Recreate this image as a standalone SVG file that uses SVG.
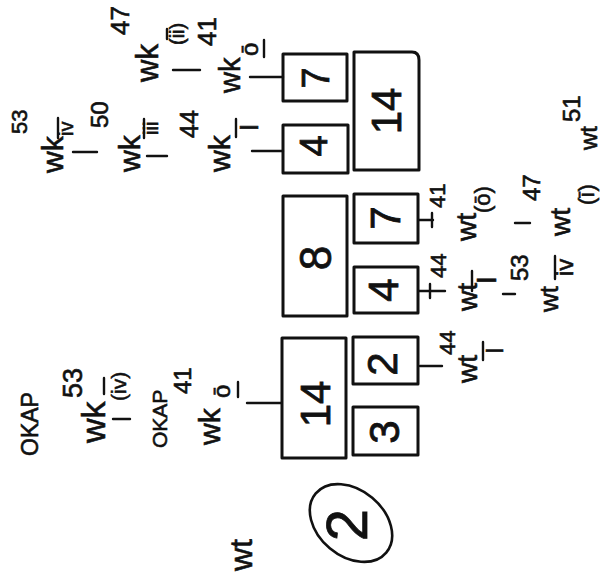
<svg xmlns="http://www.w3.org/2000/svg" width="605" height="574" viewBox="0 0 605 574">
<style>
.box{fill:none;stroke:#111;stroke-width:3;stroke-linejoin:round}
.ln{fill:none;stroke:#111;stroke-width:2.4;stroke-linecap:round}
.num{font-family:"Liberation Sans",Arial,sans-serif;fill:#111;stroke:#111;stroke-width:0.8;text-anchor:middle;dominant-baseline:central}
.t{font-family:"Liberation Sans",Arial,sans-serif;fill:#111;stroke:#111;stroke-width:0.6}
</style>
<rect width="605" height="574" fill="#fff"/>

<g id="connectors">
  <line class="ln" x1="247" y1="403" x2="281" y2="403"/>
  <line class="ln" x1="113" y1="419" x2="130" y2="419"/>
  <line class="ln" x1="252" y1="151" x2="283" y2="151"/>
  <line class="ln" x1="73" y1="152" x2="97" y2="152"/>
  <line class="ln" x1="147" y1="156" x2="167" y2="156"/>
  <line class="ln" x1="250" y1="77" x2="283" y2="77"/>
  <line class="ln" x1="173" y1="70" x2="200" y2="70"/>
  <line class="ln" x1="419" y1="220" x2="433" y2="220"/>
  <line class="ln" x1="432" y1="213" x2="432" y2="227"/>
  <line class="ln" x1="515" y1="223" x2="530" y2="223"/>
  <line class="ln" x1="419" y1="291" x2="445" y2="291"/>
  <line class="ln" x1="430" y1="284" x2="430" y2="298"/>
  <line class="ln" x1="503" y1="294" x2="515" y2="294"/>
  <line class="ln" x1="420" y1="366" x2="442" y2="366"/>
</g>

<g id="node-7a"><rect class="box" x="283" y="54" width="64" height="47"/><text class="num" font-size="38" x="316" y="78" transform="rotate(-90 316 78)">7</text></g>
<g id="node-4a"><rect class="box" x="283" y="125" width="65" height="48"/><text class="num" font-size="38" x="314" y="146" transform="rotate(-90 314 146)">4</text></g>
<g id="node-14a"><path class="box" d="M354,52 H412 Q419,52 419,60 V170 H354 Z"/><text class="num" font-size="42" x="386" y="111" transform="rotate(-90 386 111)">14</text></g>
<g id="node-8"><rect class="box" x="283" y="196" width="64" height="120"/><text class="num" font-size="44" x="315" y="258" transform="rotate(-90 315 258)">8</text></g>
<g id="node-7b"><rect class="box" x="354" y="194" width="64" height="49"/><text class="num" font-size="42" x="385" y="218" transform="rotate(-90 385 218)">7</text></g>
<g id="node-4b"><rect class="box" x="354" y="267" width="64" height="46"/><text class="num" font-size="42" x="383" y="290" transform="rotate(-90 383 290)">4</text></g>
<g id="node-14b"><rect class="box" x="282" y="338" width="64" height="120"/><text class="num" font-size="42" x="315" y="404" transform="rotate(-90 315 404)">14</text></g>
<g id="node-2"><rect class="box" x="353" y="337" width="65" height="47"/><text class="num" font-size="42" x="382" y="364" transform="rotate(-90 382 364)">2</text></g>
<g id="node-3"><rect class="box" x="353" y="407" width="65" height="48"/><text class="num" font-size="42" x="384" y="432" transform="rotate(-90 384 432)">3</text></g>

<g id="circle-2">
  <ellipse cx="351" cy="523" rx="46" ry="33" transform="rotate(40 351 523)" fill="none" stroke="#111" stroke-width="2.6"/>
  <text class="num" font-size="58" x="346" y="525" transform="rotate(-90 346 525)">2</text>
</g>

<g id="labels" transform="translate(0,574) rotate(-90)">
  <text class="t" font-size="23" x="118" y="38">OKAP</text>
  <text class="t" font-size="34" x="131" y="105">wk</text>
  <text class="t" font-size="27" x="176" y="82">53</text>
  <text class="t" font-size="21" x="173" y="126">(iv)</text>
  <line class="ln" x1="180" y1="104" x2="196" y2="104"/>
  <text class="t" font-size="21" x="126" y="167">OKAP</text>
  <text class="t" font-size="24" x="180" y="191">41</text>
  <text class="t" font-size="30" x="129" y="220">wk</text>
  <text class="t" font-size="24" x="176" y="230">ō</text>
  <line class="ln" x1="177" y1="238" x2="192" y2="238"/>
  <text class="t" font-size="22" x="440" y="27">53</text>
  <text class="t" font-size="30" x="401" y="63">wk</text>
  <text class="t" font-size="20" x="438" y="73">iv</text>
  <line class="ln" x1="436" y1="58" x2="456" y2="58"/>
  <text class="t" font-size="24" x="446" y="108">50</text>
  <text class="t" font-size="30" x="402" y="140">wk</text>
  <text class="t" font-size="20" x="439" y="158">iii</text>
  <line class="ln" x1="436" y1="144" x2="455" y2="144"/>
  <text class="t" font-size="25" x="436" y="198">44</text>
  <text class="t" font-size="30" x="402" y="230">wk</text>
  <text class="t" font-size="26" x="443" y="258">I</text>
  <line class="ln" x1="437" y1="236" x2="455" y2="236"/>
  <text class="t" font-size="26" x="539" y="129">47</text>
  <text class="t" font-size="31" x="492" y="158">wk</text>
  <text class="t" font-size="20" x="529" y="184">(ii)</text>
  <line class="ln" x1="535" y1="167" x2="545" y2="167"/>
  <text class="t" font-size="26" x="528" y="216">41</text>
  <text class="t" font-size="29" x="481" y="240">wk</text>
  <text class="t" font-size="24" x="518" y="258">ō</text>
  <line class="ln" x1="517" y1="264" x2="534" y2="264"/>
  <text class="t" font-size="22" x="366" y="445">41</text>
  <text class="t" font-size="28" x="333" y="476">wt</text>
  <text class="t" font-size="22" x="361" y="490">(ō)</text>
  <text class="t" font-size="24" x="373" y="540">47</text>
  <text class="t" font-size="28" x="338" y="570">wt</text>
  <text class="t" font-size="22" x="369" y="594">(ī)</text>
  <text class="t" font-size="22" x="296" y="446">44</text>
  <text class="t" font-size="28" x="263" y="477">wt</text>
  <text class="t" font-size="28" x="290" y="496">I</text>
  <line class="ln" x1="283" y1="472" x2="303" y2="472"/>
  <text class="t" font-size="24" x="293" y="528">53</text>
  <text class="t" font-size="26" x="262" y="558">wt</text>
  <text class="t" font-size="24" x="298" y="573">iv</text>
  <line class="ln" x1="295" y1="555" x2="318" y2="555"/>
  <text class="t" font-size="22" x="219" y="455">44</text>
  <text class="t" font-size="28" x="191" y="477">wt</text>
  <text class="t" font-size="24" x="220" y="503">I</text>
  <line class="ln" x1="214" y1="483" x2="232" y2="483"/>
  <text class="t" font-size="24" x="452" y="580">51</text>
  <text class="t" font-size="24" x="424" y="597">wt</text>
  <text class="t" font-size="32" x="3" y="252">wt</text>
</g>
</svg>
